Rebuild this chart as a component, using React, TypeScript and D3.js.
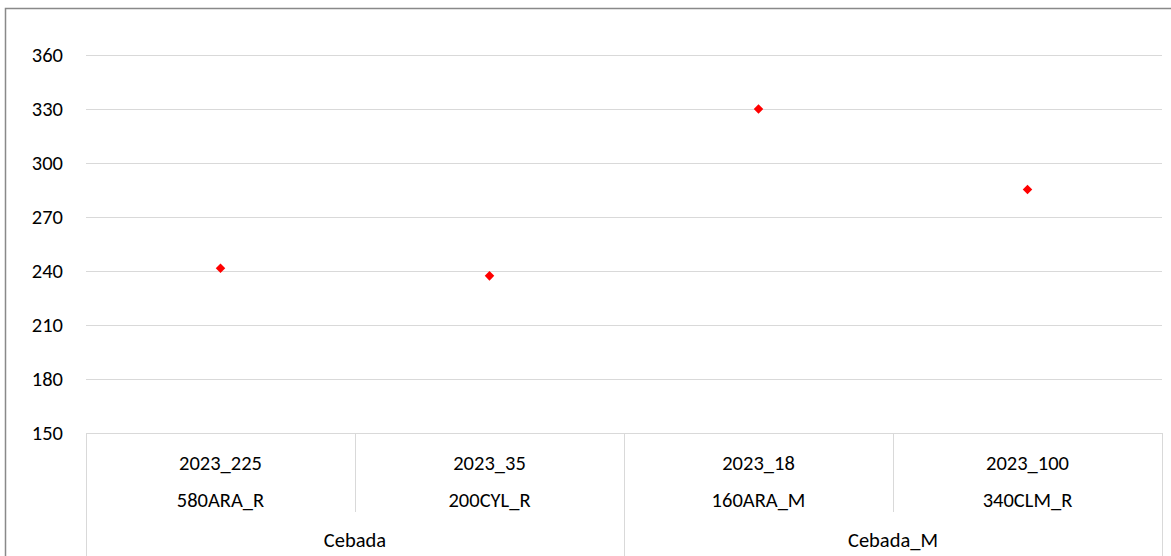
import { useEffect, useRef } from "react";
import * as d3 from "d3";

const groups = ["Cebada", "Cebada", "Cebada_M", "Cebada_M"];
const sites = ["580ARA_R", "200CYL_R", "160ARA_M", "340CLM_R"];
const trials = ["2023_225", "2023_35", "2023_18", "2023_100"];
const values = [241.5, 237.3, 330, 285.3];
const yTicks = [150, 180, 210, 240, 270, 300, 330, 360];

const W = 1171;
const H = 556;
const FONT = "Carlito, Calibri, 'Liberation Sans', sans-serif";
const FS = 20.5;

export default function App() {
  const svgRef = useRef<SVGSVGElement | null>(null);

  useEffect(() => {
    const svg = d3.select(svgRef.current);
    svg.selectAll("*").remove(); // clean before drawing

    const margin = { top: 55, right: 9, bottom: 123, left: 86 };
    const plotBottom = H - margin.bottom;

    // chart frame
    svg
      .append("rect")
      .attr("x", 5.5)
      .attr("y", 8.5)
      .attr("width", W + 10)
      .attr("height", H + 10)
      .attr("fill", "#fff")
      .attr("stroke", "#898989")
      .attr("stroke-width", 1.5);

    const idx = d3.range(values.length);
    const x = d3
      .scaleBand<number>()
      .domain(idx)
      .range([margin.left, W - margin.right]);

    const y = d3
      .scaleLinear()
      .domain([150, 360])
      .range([plotBottom, margin.top]);

    // gridlines
    svg
      .append("g")
      .selectAll("line")
      .data(yTicks)
      .join("line")
      .attr("x1", margin.left)
      .attr("x2", W - margin.right)
      .attr("y1", (d) => Math.round(y(d)) + 0.5)
      .attr("y2", (d) => Math.round(y(d)) + 0.5)
      .attr("stroke", "#d9d9d9")
      .attr("stroke-width", 1);

    // y labels
    svg
      .append("g")
      .selectAll("text")
      .data(yTicks)
      .join("text")
      .attr("x", 63)
      .attr("y", (d) => y(d))
      .attr("dy", "0.35em")
      .attr("text-anchor", "end")
      .attr("font-family", FONT)
      .attr("font-size", FS)
      .attr("fill", "#000")
      .text((d) => d);

    // category axis dividers
    const axis = svg.append("g").attr("stroke", "#d9d9d9").attr("stroke-width", 1);
    const edges = d3.range(values.length + 1).map((i) =>
      i < values.length ? (x(i) as number) : W - margin.right
    );
    edges.forEach((ex, i) => {
      const outer =
        i === 0 || i === values.length || groups[i] !== groups[i - 1];
      axis
        .append("line")
        .attr("x1", Math.round(ex) + 0.5)
        .attr("x2", Math.round(ex) + 0.5)
        .attr("y1", plotBottom)
        .attr("y2", outer ? H : 512);
    });

    const labelStyle = (sel: d3.Selection<SVGTextElement, any, any, any>) =>
      sel
        .attr("text-anchor", "middle")
        .attr("dy", "0.35em")
        .attr("font-family", FONT)
        .attr("font-size", FS)
        .attr("fill", "#000");

    svg
      .append("g")
      .selectAll("text")
      .data(idx)
      .join("text")
      .attr("x", (i) => (x(i) as number) + x.bandwidth() / 2)
      .attr("y", 463)
      .call(labelStyle)
      .text((i) => trials[i]);

    svg
      .append("g")
      .selectAll("text")
      .data(idx)
      .join("text")
      .attr("x", (i) => (x(i) as number) + x.bandwidth() / 2)
      .attr("y", 500)
      .call(labelStyle)
      .text((i) => sites[i]);

    const groupNames = Array.from(new Set(groups));
    svg
      .append("g")
      .selectAll("text")
      .data(groupNames)
      .join("text")
      .attr("x", (g) => {
        const members = idx.filter((i) => groups[i] === g);
        const x0 = x(members[0]) as number;
        const x1 = (x(members[members.length - 1]) as number) + x.bandwidth();
        return (x0 + x1) / 2;
      })
      .attr("y", 540)
      .call(labelStyle)
      .text((g) => g);

    // diamond markers
    const diamond = d3.symbol().type(d3.symbolDiamond2).size(58);
    svg
      .append("g")
      .selectAll("path")
      .data(idx)
      .join("path")
      .attr(
        "transform",
        (i) => `translate(${(x(i) as number) + x.bandwidth() / 2},${y(values[i])})`
      )
      .attr("d", diamond)
      .attr("fill", "#ff0000");
  }, []);

  return (
    <svg
      ref={svgRef}
      width={W}
      height={H}
      style={{ position: "absolute", left: 0, top: 0, display: "block" }}
    ></svg>
  );
}
